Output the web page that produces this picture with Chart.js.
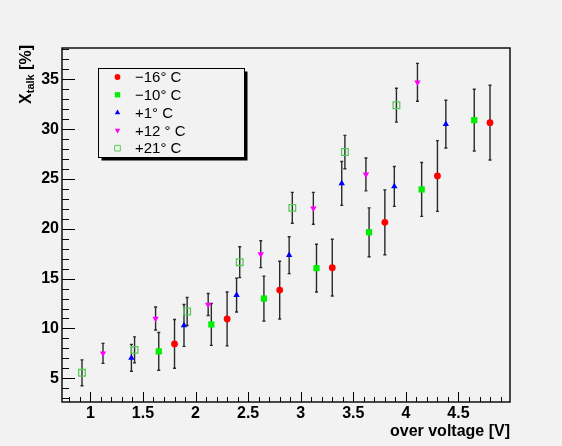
<!DOCTYPE html>
<html>
<head>
<meta charset="utf-8">
<script src="https://cdn.jsdelivr.net/npm/chart.js@4/dist/chart.umd.min.js"></script>
<style>
  html, body { margin: 0; padding: 0; background: #f2f2f2; }
  #wrap { width: 562px; height: 446px; }
</style>
</head>
<body>
<div id="wrap"><canvas id="xtalk" width="562" height="446"></canvas></div>
<script>
// legend labels, one per temperature
const labels = ['\u221216\u00b0 C', '\u221210\u00b0 C', '+1\u00b0 C', '+12 \u00b0 C', '+21\u00b0 C'];

// over voltage [V]
const xM16 = [1.80, 2.30, 2.80, 3.30, 3.80, 4.30, 4.80];
const xM10 = [1.65, 2.15, 2.65, 3.15, 3.65, 4.15, 4.65];
const xP1  = [1.39, 1.89, 2.39, 2.89, 3.39, 3.89, 4.38];
const xP12 = [1.12, 1.62, 2.12, 2.62, 3.12, 3.62, 4.11];
const xP21 = [0.92, 1.42, 1.92, 2.42, 2.92, 3.42, 3.91];

// crosstalk [%]
const yM16 = [8.45, 10.95, 13.85, 16.1, 20.65, 25.3, 30.65];
const yM10 = [7.7, 10.4, 13.0, 16.05, 19.65, 23.95, 30.9];
const yP1  = [7.05, 10.3, 13.35, 17.35, 24.55, 24.25, 30.5];
const yP12 = [7.5, 11.0, 12.4, 17.45, 22.05, 25.45, 34.7];
const yP21 = [5.55, 7.85, 11.7, 16.65, 22.1, 27.7, 32.4];

// symmetric errors on crosstalk
const eM16 = [2.45, 2.7, 2.9, 2.85, 3.25, 3.55, 3.75];
const eM10 = [1.9, 2.1, 2.25, 2.4, 2.45, 2.7, 3.1];
const eP1  = [1.35, 2.1, 1.7, 1.85, 2.2, 2.0, 2.4];
const eP12 = [1.0, 1.15, 1.1, 1.35, 1.6, 1.65, 1.9];
const eP21 = [1.3, 1.3, 1.4, 1.55, 1.55, 1.67, 1.7];

const xTicks = [1, 1.5, 2, 2.5, 3, 3.5, 4, 4.5];
const yTicks = [5, 10, 15, 20, 25, 30, 35];

const FONT = 'Liberation Sans, Arial, Helvetica, sans-serif';

function pts(xs, ys, es) {
    return xs.map((x, i) => ({ x: x, y: ys[i], err: es[i] }));
}

const styles = [
    { color: '#ff0000', pointStyle: 'circle', radius: 3.4, fill: true, rotation: 0 },
    { color: '#00ee00', pointStyle: 'rect', radius: 4.4, fill: true, rotation: 0 },
    { color: '#0000ff', pointStyle: 'triangle', radius: 3.7, fill: true, rotation: 0 },
    { color: '#ff00ff', pointStyle: 'triangle', radius: 3.7, fill: true, rotation: 180 },
    { color: '#55cc55', pointStyle: 'rect', radius: 4.7, fill: false, rotation: 0 }
];

const allData = [
    pts(xM16, yM16, eM16),
    pts(xM10, yM10, eM10),
    pts(xP1, yP1, eP1),
    pts(xP12, yP12, eP12),
    pts(xP21, yP21, eP21)
];

const datasets = allData.map((d, i) => {
    const s = styles[i];
    return {
        label: labels[i],
        data: d,
        pointStyle: s.pointStyle,
        pointRadius: s.radius,
        pointHoverRadius: s.radius,
        pointRotation: s.rotation,
        backgroundColor: s.fill ? s.color : 'rgba(0,0,0,0)',
        borderColor: s.color,
        borderWidth: s.fill ? 0 : 1.3,
        showLine: false
    };
});

// vertical error bars with small caps
const errorBars = {
    id: 'errorBars',
    beforeDatasetsDraw(chart) {
        const ctx = chart.ctx;
        const xs = chart.scales.x, ys = chart.scales.y;
        ctx.save();
        ctx.strokeStyle = '#2a2a2a';
        ctx.lineWidth = 1.4;
        chart.data.datasets.forEach(ds => {
            ds.data.forEach(p => {
                const px = xs.getPixelForValue(p.x);
                const top = ys.getPixelForValue(p.y + p.err);
                const bot = ys.getPixelForValue(p.y - p.err);
                ctx.beginPath();
                ctx.moveTo(px, top);
                ctx.lineTo(px, bot);
                ctx.moveTo(px - 1.5, top);
                ctx.lineTo(px + 1.5, top);
                ctx.moveTo(px - 1.5, bot);
                ctx.lineTo(px + 1.5, bot);
                ctx.stroke();
            });
        });
        ctx.restore();
    }
};

// frame, inward ticks, axis titles and the legend box
const frameDecor = {
    id: 'frameDecor',
    afterDraw(chart) {
        const ctx = chart.ctx;
        const a = chart.chartArea;
        const xs = chart.scales.x, ys = chart.scales.y;
        ctx.save();
        ctx.strokeStyle = '#000';
        ctx.lineWidth = 1.4;
        ctx.strokeRect(a.left, a.top, a.right - a.left, a.bottom - a.top);

        ctx.lineWidth = 1;
        ctx.beginPath();
        // x ticks every 0.1, major every 0.5
        for (let k = 8; k <= 49; k++) {
            const v = k / 10;
            const px = Math.round(xs.getPixelForValue(v)) + 0.5;
            const len = (k % 5 === 0) ? 10 : 5;
            ctx.moveTo(px, a.bottom);
            ctx.lineTo(px, a.bottom - len);
        }
        // y ticks every 1, major every 5
        for (let v = 3; v <= 38; v++) {
            const py = Math.round(ys.getPixelForValue(v)) + 0.5;
            const len = (v % 5 === 0) ? 13 : 7;
            ctx.moveTo(a.left, py);
            ctx.lineTo(a.left + len, py);
        }
        ctx.stroke();

        // x title
        ctx.fillStyle = '#000';
        ctx.font = 'bold 16px ' + FONT;
        ctx.textAlign = 'right';
        ctx.textBaseline = 'alphabetic';
        ctx.fillText('over voltage [V]', a.right, 436);

        // y title, rotated, with subscript
        ctx.save();
        ctx.translate(31, a.top - 3);
        ctx.rotate(-Math.PI / 2);
        ctx.textAlign = 'left';
        const big = 'bold 16px ' + FONT, small = 'bold 11px ' + FONT;
        ctx.font = big;
        const wX = ctx.measureText('X').width;
        ctx.font = small;
        const wSub = ctx.measureText('talk').width;
        ctx.font = big;
        const wRest = ctx.measureText(' [%]').width;
        let cx = -(wX + wSub + wRest);
        ctx.fillText('X', cx, 0);
        cx += wX;
        ctx.font = small;
        ctx.fillText('talk', cx, 3);
        cx += wSub;
        ctx.font = big;
        ctx.fillText(' [%]', cx, 0);
        ctx.restore();

        // legend
        const lx = 98.5, ly = 68.5, lw = 146, lh = 89;
        ctx.fillStyle = '#000';
        ctx.fillRect(lx + 3, ly + 3, lw, lh);
        ctx.fillStyle = '#f2f2f2';
        ctx.fillRect(lx, ly, lw, lh);
        ctx.lineWidth = 1;
        ctx.strokeStyle = '#000';
        ctx.strokeRect(lx, ly, lw, lh);

        ctx.font = '15px ' + FONT;
        ctx.textAlign = 'left';
        ctx.textBaseline = 'middle';
        chart.data.datasets.forEach((ds, i) => {
            const s = styles[i];
            const ry = 77 + i * 17.8;
            ctx.fillStyle = s.fill ? s.color : 'rgba(0,0,0,0)';
            ctx.strokeStyle = s.color;
            Chart.helpers.drawPoint(ctx, {
                pointStyle: s.pointStyle,
                radius: s.radius * 0.85,
                rotation: s.rotation,
                borderWidth: s.fill ? 0 : 1.2
            }, 117.5, ry);
            ctx.fillStyle = '#000';
            ctx.fillText(ds.label, 135, ry + 1);
        });
        ctx.restore();
    }
};

new Chart(document.getElementById('xtalk'), {
    type: 'scatter',
    data: { datasets: datasets },
    options: {
        responsive: false,
        animation: false,
        events: [],
        layout: { padding: { left: 6, right: 52, top: 48, bottom: 0 } },
        plugins: {
            legend: { display: false },
            tooltip: { enabled: false }
        },
        scales: {
            x: {
                type: 'linear',
                min: 0.73,
                max: 4.99,
                afterFit(scale) { scale.height = 44; },
                afterBuildTicks(scale) { scale.ticks = xTicks.map(v => ({ value: v })); },
                grid: { display: false, drawTicks: false },
                border: { display: false },
                ticks: {
                    color: '#000',
                    padding: 2,
                    maxRotation: 0,
                    autoSkip: false,
                    callback: v => String(v),
                    font: { family: FONT, size: 16, weight: 'bold' }
                }
            },
            y: {
                type: 'linear',
                min: 2.62,
                max: 38.14,
                afterFit(scale) { scale.width = 56; },
                afterBuildTicks(scale) { scale.ticks = yTicks.map(v => ({ value: v })); },
                grid: { display: false, drawTicks: false },
                border: { display: false },
                ticks: {
                    color: '#000',
                    padding: 3,
                    autoSkip: false,
                    callback: v => String(v),
                    font: { family: FONT, size: 16, weight: 'bold' }
                }
            }
        }
    },
    plugins: [errorBars, frameDecor]
});
</script>
</body>
</html>
